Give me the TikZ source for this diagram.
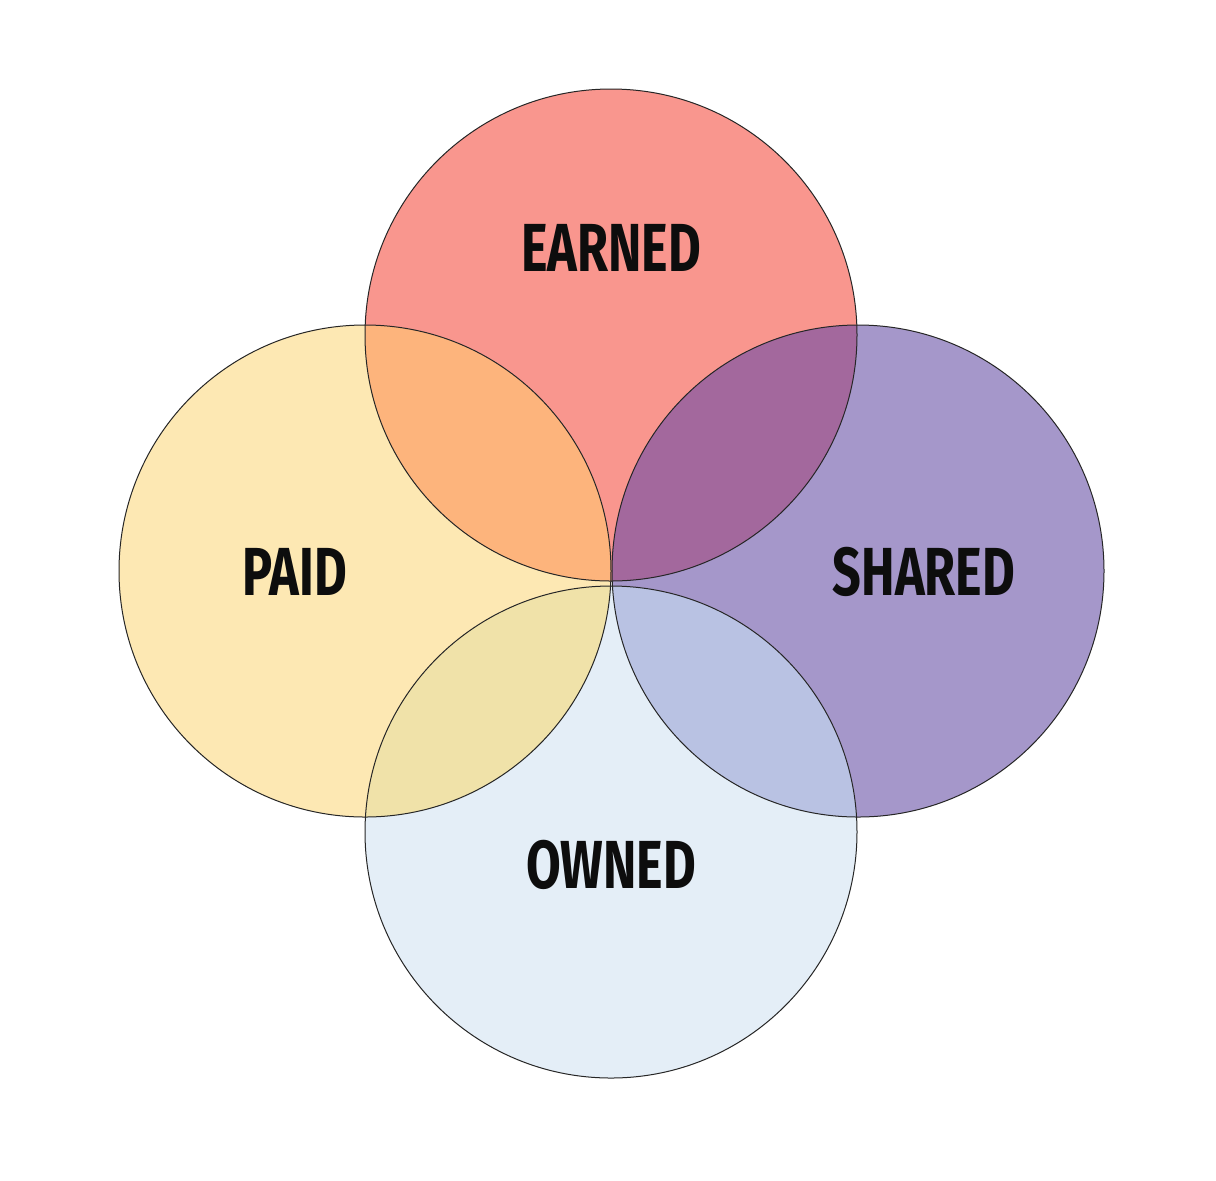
\documentclass[tikz,border=0pt]{standalone}
\usepackage{fontspec}
\setmainfont[FakeStretch=0.74]{Fira Sans}
\definecolor{earnedc}{HTML}{F9968E}
\definecolor{paidc}{HTML}{FDE8B3}
\definecolor{sharedc}{HTML}{A597CA}
\definecolor{ownedc}{HTML}{E4EEF7}
\definecolor{epc}{HTML}{FDB47C}
\definecolor{esc}{HTML}{A3689D}
\definecolor{poc}{HTML}{F0E2A9}
\definecolor{soc}{HTML}{B9C2E3}
\tikzset{
disc/.style={
	  circle, inner sep=0pt, minimum size=246pt},
ring/.style={
	  circle, inner sep=0pt, minimum size=246pt, draw=black!85, line width=0.5pt},
tag/.style={
	  font=\fontsize{34}{34}\selectfont\bfseries, text=black!95}
}
\newcommand{\rad}{123pt}

\begin{document}
\begin{tikzpicture}[x=0.5pt, y=-0.5pt]
	\useasboundingbox (0,0) rectangle (1216,1180);
	\fill[white] (0,0) rectangle (1216,1180);
	% circles
	\node[disc, fill=earnedc] (earned) at (611,335) {};
	\node[disc, fill=paidc] (paid) at (365,571) {};
	\node[disc, fill=sharedc] (shared) at (858,571) {};
	\node[disc, fill=ownedc] (owned) at (611,832) {};
	% overlaps
	\begin{scope}
		\clip (earned.center) circle (\rad);
		\fill[epc] (paid.center) circle (\rad);
		\fill[esc] (shared.center) circle (\rad);
	\end{scope}
	\begin{scope}
		\clip (owned.center) circle (\rad);
		\fill[poc] (paid.center) circle (\rad);
		\fill[soc] (shared.center) circle (\rad);
	\end{scope}
	% outlines
	\foreach \c in {earned, paid, shared, owned}
		\node[ring] at (\c.center) {};
	% labels
	\node[tag] (earnedlbl) at (611,248) {EARNED};
	\node[tag] (paidlbl) at (295,572) {PAID};
	\node[tag] (sharedlbl) at (924,572) {SHARED};
	\node[tag] (ownedlbl) at (611,865) {OWNED};
\end{tikzpicture}
\end{document}
